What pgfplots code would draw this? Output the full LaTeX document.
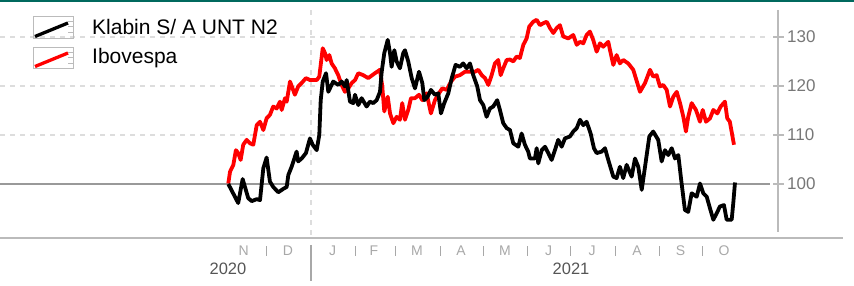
\documentclass[border=0pt]{standalone}
\usepackage{pgfplots}
\pgfplotsset{compat=1.18}
\usepackage{fontspec}
\setmainfont{Liberation Sans}
\definecolor{teal0}{HTML}{00695E}
\definecolor{gridc}{HTML}{DDDDDD}
\definecolor{axc}{HTML}{BBBBBB}
\definecolor{zeroc}{HTML}{999999}
\definecolor{tickc}{HTML}{777777}
\definecolor{monc}{HTML}{A8A8A8}
\definecolor{yearc}{HTML}{555555}
\begin{document}
\begin{tikzpicture}[x=1pt,y=1pt]
\begin{axis}[at={(0pt,54pt)}, anchor=south west, scale only axis,
  width=770pt, height=222pt,
  xmin=-216.7, xmax=319.9, ymin=90.2, ymax=135.5,
  axis lines=none, ticks=none, clip=false]
 \draw[gridc, line width=1.2pt, dash pattern=on 5pt off 5pt] (axis cs:-216.7,110) -- (axis cs:319.9,110);
 \draw[gridc, line width=1.2pt, dash pattern=on 5pt off 5pt] (axis cs:-216.7,120) -- (axis cs:319.9,120);
 \draw[gridc, line width=1.2pt, dash pattern=on 5pt off 5pt] (axis cs:-216.7,130) -- (axis cs:319.9,130);
 \draw[gridc, line width=1.2pt, dash pattern=on 5pt off 5pt] (axis cs:0,89.6) -- (axis cs:0,136.5);
 \draw[zeroc, line width=1.5pt] (axis cs:-216.7,100) -- (axis cs:319.9,100);
 \addplot[red, line width=3.8pt, line join=round] coordinates {
(-57.6,100.1) (-56.4,102.5) (-54.1,103.9) (-52.3,106.9) (-50.7,106.3) (-49.0,104.9) (-47.2,108.0) (-44.8,109.0) (-42.5,108.3) (-40.2,108.0) (-37.8,112.0) (-35.5,112.7) (-33.2,111.0) (-30.9,113.4) (-28.6,114.1) (-26.3,115.8) (-23.9,115.4) (-21.6,116.8) (-20.4,115.1) (-18.1,117.5) (-16.9,116.8) (-14.6,120.9) (-12.8,119.5) (-11.2,118.2) (-8.9,119.9) (-6.5,120.6) (-3.5,121.6) (-0.7,121.2) (4.0,121.2) (5.8,121.9) (8.2,127.7) (9.8,126.7) (10.9,125.3) (12.8,126.3) (14.4,124.6) (16.7,123.6) (19.0,122.2) (21.4,120.2) (23.7,118.8) (26.0,119.5) (28.4,120.6) (30.7,121.2) (33.0,122.6) (36.4,122.2) (39.9,121.6) (44.6,122.6) (48.1,123.3) (49.7,119.9) (51.1,114.8) (53.5,117.8) (55.1,114.4) (57.4,112.4) (59.7,113.7) (62.0,113.1) (63.6,116.5) (65.5,113.1) (67.8,115.1) (69.7,117.5) (72.5,117.5) (75.3,118.2) (77.6,117.1) (80.6,118.5) (83.6,114.4) (86.4,117.1) (89.2,118.5) (91.5,119.5) (94.6,119.2) (97.6,120.9) (100.4,121.9) (103.8,122.2) (107.3,122.9) (110.8,122.9) (114.3,122.9) (116.6,123.3) (119.0,122.2) (121.3,121.6) (123.6,120.2) (125.9,122.2) (128.2,124.6) (130.5,125.3) (132.2,122.2) (134.0,123.6) (136.4,125.3) (138.7,125.4) (141.0,125.0) (143.3,126.0) (145.6,125.7) (148.0,128.4) (150.3,129.7) (152.1,132.1) (154.9,133.1) (157.3,133.5) (159.6,132.4) (161.9,132.8) (164.3,133.1) (166.6,131.8) (168.9,130.8) (171.2,131.8) (173.5,132.4) (175.8,130.1) (179.3,129.7) (182.8,130.4) (185.2,128.4) (187.5,129.0) (189.8,128.7) (192.1,130.4) (194.4,131.1) (196.7,129.4) (199.1,127.0) (201.4,128.7) (203.7,128.0) (207.2,129.0) (208.4,127.3) (210.7,124.3) (213.0,126.3) (215.3,124.6) (217.6,125.3) (221.1,124.6) (224.6,123.3) (229.3,118.8) (232.8,120.6) (236.3,123.3) (238.5,121.9) (240.9,122.2) (243.2,119.9) (245.5,120.2) (247.9,119.2) (250.2,115.8) (252.5,117.8) (254.9,118.8) (257.2,116.5) (259.5,113.7) (261.3,110.7) (262.9,113.7) (265.3,116.5) (268.3,115.1) (271.1,112.7) (273.0,115.1) (275.3,112.7) (278.1,113.4) (280.4,115.1) (283.2,114.4) (285.5,115.8) (288.5,116.8) (290.1,113.4) (291.9,112.7) (294.8,108.0)
 };
 \addplot[black, line width=3.8pt, line join=round] coordinates {
(-57.6,100.0) (-50.7,96.1) (-47.6,101.0) (-43.7,97.1) (-41.3,96.5) (-37.8,96.9) (-35.5,96.7) (-33.2,103.2) (-30.9,105.4) (-28.6,100.5) (-26.3,99.4) (-22.8,98.3) (-19.3,99.0) (-16.9,99.4) (-15.8,101.8) (-13.5,103.5) (-10.0,106.6) (-8.9,104.6) (-6.5,105.2) (-3.5,106.3) (-0.7,109.3) (1.2,108.0) (4.0,106.9) (5.8,110.0) (6.8,117.1) (8.2,120.9) (10.5,122.6) (12.1,118.8) (15.5,120.9) (19.0,120.2) (21.4,120.9) (23.7,119.9) (24.9,121.2) (27.2,116.8) (29.5,116.5) (30.7,118.2) (33.0,116.1) (35.3,117.5) (38.8,115.8) (41.1,116.8) (43.4,116.5) (45.8,117.1) (48.1,118.8) (49.3,122.9) (51.1,126.7) (53.5,129.4) (55.1,126.7) (56.2,123.9) (58.1,127.3) (59.7,125.0) (62.0,123.6) (64.3,126.7) (65.5,127.3) (67.8,125.0) (70.2,121.6) (72.5,119.5) (75.3,122.9) (77.6,120.6) (79.0,117.1) (81.3,117.8) (83.6,119.2) (86.4,118.2) (88.7,118.5) (90.6,114.4) (92.9,116.5) (95.7,118.5) (98.1,121.6) (100.8,124.3) (103.8,123.9) (106.1,124.6) (108.5,123.6) (110.8,124.6) (113.1,122.2) (115.9,119.9) (117.8,117.1) (120.1,116.1) (122.4,113.7) (124.7,115.4) (127.0,115.8) (129.8,117.1) (131.7,115.1) (134.0,112.4) (136.4,111.4) (138.7,111.0) (141.0,108.3) (144.5,107.6) (146.8,110.3) (149.1,108.0) (151.4,106.6) (152.6,105.2) (156.1,105.2) (157.3,107.3) (158.4,104.2) (160.8,106.9) (163.1,107.6) (165.4,106.3) (167.7,104.9) (170.0,106.9) (172.3,109.0) (174.7,107.6) (177.0,109.3) (180.5,109.7) (182.8,110.7) (185.2,111.4) (187.5,113.1) (189.8,112.0) (192.1,112.7) (194.9,110.3) (197.2,107.3) (199.1,106.3) (202.6,106.6) (204.9,107.3) (207.2,104.9) (210.7,101.5) (213.0,101.2) (215.3,103.5) (217.6,101.2) (220.0,103.9) (223.5,101.5) (225.8,105.2) (228.1,103.5) (230.5,98.8) (232.8,103.5) (235.8,109.7) (238.5,110.7) (242.0,109.0) (244.4,104.6) (246.7,106.9) (249.0,105.9) (251.4,107.3) (253.7,105.2) (256.0,105.9) (258.3,100.1) (260.6,94.7) (262.9,94.3) (265.3,98.1) (268.8,97.4) (271.1,100.1) (273.4,98.1) (275.8,97.4) (278.1,95.0) (280.4,92.7) (282.7,94.0) (285.0,95.4) (287.8,95.7) (289.7,92.7) (293.2,92.7) (294.3,96.1) (295.5,100.3)
 };
\end{axis}
% frame elements
\fill[teal0] (0,283.5) rectangle (854,286);
\draw[axc, line width=1.5pt] (778,276) -- (778,54);
\draw[axc, line width=1.5pt] (0,48) -- (843,48);
\foreach \yy/\lab in {102/100,151/110,200/120,249/130}{
  \draw[axc, line width=1.5pt] (773,\yy) -- (784,\yy);
  \node[anchor=west, inner sep=0, text=tickc, font=\fontsize{17}{17}\selectfont] at (787,\yy) {\lab};
}
% months
\foreach \xx/\m in {243.6/N,288/D,332.5/J,374/F,417/M,461/A,505/M,548.5/J,592/J,637/A,680.5/S,724/O}{
  \node[inner sep=0, text=monc, font=\fontsize{14}{14}\selectfont] at (\xx,35) {\m};
}
\foreach \xx in {266.5,355.5,395.7,440.2,483.2,527.7,570.7,615.2,659.7,702.8}{
  \draw[monc, line width=1pt] (\xx,30) -- (\xx,39.5);
}
\draw[monc, line width=1.2pt] (311,41) -- (311,5);
\node[inner sep=0, text=yearc, font=\fontsize{16.5}{16.5}\selectfont] at (228,17) {2020};
\node[inner sep=0, text=yearc, font=\fontsize{16.5}{16.5}\selectfont] at (571,17) {2021};
% legend
\draw[axc, line width=0.8pt] (33,270) rectangle (73,248);
\foreach \yy in {265,259.5,254}{\draw[axc, line width=0.8pt] (68,\yy) -- (73,\yy);}
\draw[black, line width=3.3pt] (35,249.5) -- (68,263);
\draw[axc, line width=0.8pt] (33,239) rectangle (73,218);
\foreach \yy in {234,228.5,223}{\draw[axc, line width=0.8pt] (68,\yy) -- (73,\yy);}
\draw[red, line width=3.3pt] (35,219.5) -- (68,233);
\node[anchor=base west, inner sep=0, font=\fontsize{21}{24}\selectfont] at (92,251) {Klabin S/ A UNT N2};
\node[anchor=base west, inner sep=0, font=\fontsize{21}{24}\selectfont] at (92,222.5) {Ibovespa};
\pgfresetboundingbox
\path[use as bounding box] (0,0) rectangle (854,286);
\end{tikzpicture}
\end{document}
